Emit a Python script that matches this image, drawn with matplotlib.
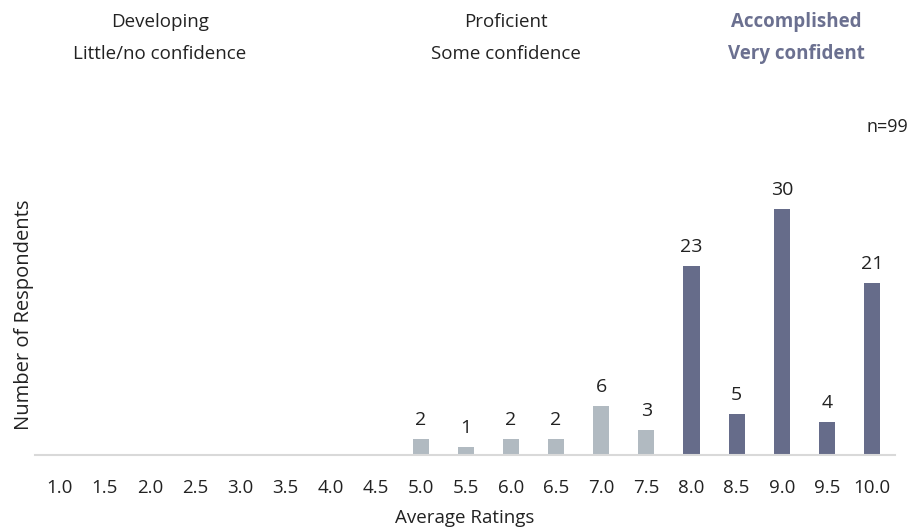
import matplotlib
matplotlib.use('Agg')
from matplotlib import pyplot as plt

ratings = ['1.0', '1.5', '2.0', '2.5', '3.0', '3.5', '4.0', '4.5', '5.0', '5.5',
           '6.0', '6.5', '7.0', '7.5', '8.0', '8.5', '9.0', '9.5', '10.0']
counts = [0, 0, 0, 0, 0, 0, 0, 0, 2, 1, 2, 2, 6, 3, 23, 5, 30, 4, 21]
levels = ['dev'] * 8 + ['prof'] * 6 + ['acc'] * 5

colors = {'dev': '#b1bac1', 'prof': '#b1bac1', 'acc': '#666c8a'}

plt.rcParams['font.family'] = ['Open Sans', 'DejaVu Sans']

fig = plt.figure(figsize=(9.12, 5.29), dpi=100)
ax = fig.add_axes([0.038, 0.14, 0.943, 0.52])

x = list(range(len(ratings)))
ax.bar(x, counts, width=0.36, color=[colors[l] for l in levels])

for xi, c in zip(x, counts):
    if c > 0:
        ax.text(xi, c + 1.2, str(c), ha='center', va='bottom', fontsize=14, color='#222222')

ax.set_xlim(-0.55, 18.5)
ax.set_ylim(0, 33.5)
ax.set_xticks(x)
ax.set_xticklabels(ratings, fontsize=13.5, color='#222222')
ax.set_yticks([])
ax.tick_params(axis='x', length=0, pad=17)
for s in ['top', 'right', 'left']:
    ax.spines[s].set_visible(False)
ax.spines['bottom'].set_color('#d9d9d9')
ax.spines['bottom'].set_linewidth(1.5)

ax.set_xlabel('Average Ratings', fontsize=13.5, color='#222222', labelpad=9)
fig.text(0.026, 1 - 315 / 529, 'Number of Respondents', rotation=90, ha='center', va='center',
         fontsize=14.5, color='#222222')

# header labels above the chart
fig.text(160 / 912, 1 - 22 / 529, 'Developing', ha='center', va='center', fontsize=13.5, color='#222222')
fig.text(160 / 912, 1 - 54 / 529, 'Little/no confidence', ha='center', va='center', fontsize=13.5, color='#222222')
fig.text(506 / 912, 1 - 22 / 529, 'Proficient', ha='center', va='center', fontsize=13.5, color='#222222')
fig.text(506 / 912, 1 - 54 / 529, 'Some confidence', ha='center', va='center', fontsize=13.5, color='#222222')
fig.text(796 / 912, 1 - 22 / 529, 'Accomplished', ha='center', va='center', fontsize=13.5,
         fontweight='bold', color='#6b7090')
fig.text(796 / 912, 1 - 54 / 529, 'Very confident', ha='center', va='center', fontsize=13.5,
         fontweight='bold', color='#6b7090')
fig.text(887 / 912, 1 - 127 / 529, 'n=99', ha='center', va='center', fontsize=13, color='#222222')

fig.savefig('out.png', dpi=100)
